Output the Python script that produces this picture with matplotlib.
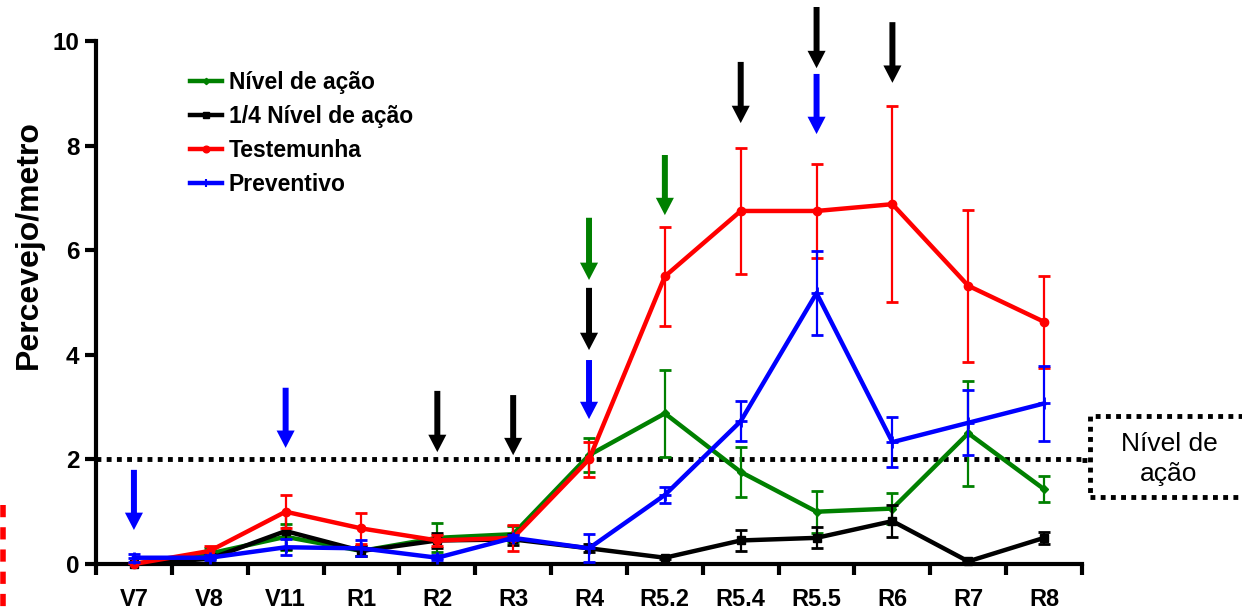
import matplotlib
matplotlib.use("Agg")
import matplotlib.pyplot as plt
from matplotlib.lines import Line2D
from matplotlib.patches import Rectangle
import numpy as np

plt.rcParams['font.family'] = ['Liberation Sans', 'DejaVu Sans']

categories = ["V7", "V8", "V11", "R1", "R2", "R3", "R4", "R5.2", "R5.4", "R5.5", "R6", "R7", "R8"]

nivel = [0.0, 0.2, 0.52, 0.25, 0.5, 0.57, 2.08, 2.88, 1.76, 1.0, 1.06, 2.5, 1.43]
nivel_err = [0.02, 0.1, 0.25, 0.1, 0.28, 0.15, 0.33, 0.83, 0.48, 0.4, 0.3, 1.0, 0.25]

quarto = [0.0, 0.1, 0.63, 0.25, 0.45, 0.47, 0.3, 0.12, 0.45, 0.5, 0.82, 0.05, 0.5]
quarto_err = [0.02, 0.1, 0.35, 0.1, 0.15, 0.1, 0.08, 0.03, 0.2, 0.2, 0.3, 0.02, 0.12]

testemunha = [0.0, 0.25, 1.0, 0.68, 0.45, 0.5, 2.0, 5.5, 6.75, 6.75, 6.88, 5.32, 4.63]
testemunha_err = [0.02, 0.1, 0.32, 0.3, 0.1, 0.25, 0.33, 0.95, 1.2, 0.9, 1.88, 1.45, 0.88]

preventivo = [0.12, 0.12, 0.32, 0.3, 0.12, 0.5, 0.3, 1.32, 2.73, 5.18, 2.33, 2.7, 3.07]
preventivo_err = [0.08, 0.05, 0.15, 0.15, 0.05, 0.05, 0.27, 0.16, 0.38, 0.8, 0.48, 0.62, 0.72]

action_level = 2.0

# arrows: (category index, y top, y tip, color)
arrows = [
    (0, 1.80, 0.65, "#0000ff"),
    (2, 3.37, 2.22, "#0000ff"),
    (4, 3.31, 2.14, "black"),
    (5, 3.23, 2.08, "black"),
    (6, 3.90, 2.77, "#0000ff"),
    (6, 5.28, 4.09, "black"),
    (6, 6.62, 5.43, "#008000"),
    (7, 7.82, 6.67, "#008000"),
    (8, 9.60, 8.43, "black"),
    (9, 9.37, 8.22, "#0000ff"),
    (9, 10.65, 9.48, "black"),
    (10, 10.36, 9.20, "black"),
]

fig = plt.figure(figsize=(12.42, 6.10), dpi=100)
ax = fig.add_axes([0.0773, 0.0754, 0.7939, 0.8574])
x = np.arange(len(categories))

series = [
    ("Nível de ação", nivel, nivel_err, "#008000", "D", 4),
    ("1/4 Nível de ação", quarto, quarto_err, "black", "s", 6),
    ("Testemunha", testemunha, testemunha_err, "#ff0000", "o", 6),
    ("Preventivo", preventivo, preventivo_err, "#0000ff", "+", 8),
]
handles = []
for i, (lab, y, e, c, m, ms) in enumerate(series):
    ax.errorbar(x, y, yerr=e, color=c, lw=1.6, capsize=4, capthick=2, fmt="none", zorder=3 + i)
    ax.plot(x, y, color=c, lw=3.2, marker=m, ms=ms, mew=2 if m == "+" else 1, zorder=3 + i, clip_on=False)
    handles.append(Line2D([0], [0], color=c, lw=3.2, marker=m, ms=ms * 0.8, mew=1.5 if m == "+" else 1))

ax.axhline(action_level, color="black", lw=3.5, ls=(0, (1, 1.1)), zorder=2)

for (xi, ytop, ytip, c) in arrows:
    ax.annotate("", xy=(xi, ytip), xytext=(xi, ytop),
                arrowprops=dict(width=4.3, headwidth=13, headlength=12.5, facecolor=c, edgecolor="none",
                                lw=0, shrink=0),
                annotation_clip=False, zorder=10)

ax.set_xlim(-0.5, len(categories) - 0.5)
ax.set_ylim(0, 10)
ax.set_yticks([0, 2, 4, 6, 8, 10])
ax.set_xticks(x)
ax.set_xticklabels(categories)
ax.set_xticks(np.arange(-0.5, len(categories), 1.0), minor=True)
ax.tick_params(axis="x", which="major", length=0, pad=17, labelsize=17)
ax.tick_params(axis="x", which="minor", length=8, width=3, direction="out")
ax.tick_params(axis="y", length=8, width=3, direction="out", labelsize=17.5, pad=4)
for lbl in ax.get_xticklabels() + ax.get_yticklabels():
    lbl.set_fontweight("bold")
for s in ["top", "right"]:
    ax.spines[s].set_visible(False)
for s in ["left", "bottom"]:
    ax.spines[s].set_linewidth(3)
ax.set_ylabel("Percevejo/metro", fontsize=23, fontweight="bold")
ax.yaxis.set_label_coords(-0.053, (564 - 245) / 523)

leg = ax.legend(handles, [s[0] for s in series], loc="upper left", bbox_to_anchor=(0.0953, 0.942),
                frameon=False, prop=dict(weight="bold", size=16.5), handlelength=1.4,
                handletextpad=0.3, labelspacing=0.47, borderaxespad=0, borderpad=0)

# action level box at right
fig.patches.append(Rectangle((1090 / 1242, 1 - 497 / 610), 0.2, 81 / 610, transform=fig.transFigure,
                             fill=False, edgecolor="black", lw=3.5, ls=(0, (1, 1.1))))
fig.text(1169 / 1242, 1 - 459 / 610, "Nível de\nação", ha="center", va="center", fontsize=19,
         linespacing=1.3)
fig.add_artist(Line2D([1082 / 1242, 1090 / 1242], [1 - 459.5 / 610, 1 - 459.5 / 610], transform=fig.transFigure,
                      color="black", lw=3.5, ls=(0, (1, 1.1))))

# red dashed mark at left edge
fig.add_artist(Line2D([3 / 1242, 3 / 1242], [1 - 505 / 610, 0], transform=fig.transFigure,
                      color="#ff0000", lw=4, ls=(0, (2.2, 1.8))))

fig.savefig("out.png", dpi=100)
